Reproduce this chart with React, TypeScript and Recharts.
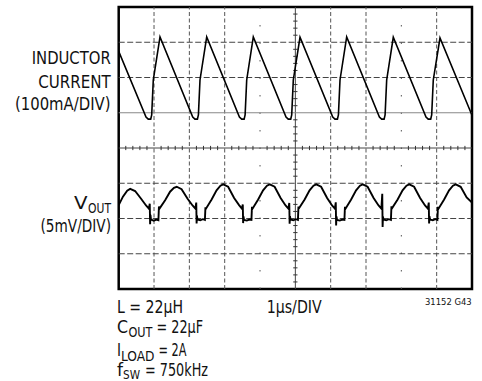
import React from 'react';
import { LineChart, Line, XAxis, YAxis, ReferenceLine, ReferenceArea } from 'recharts';

// Time axis: 0..10 µs (1µs/DIV), vertical: 0..8 divisions
const inductorT = [
  0, 0.773, 0.837, 0.906, 0.934, 0.979, 1.169,
  2.095, 2.159, 2.228, 2.256, 2.301, 2.491,
  3.417, 3.481, 3.55, 3.578, 3.623, 3.81,
  4.736, 4.8, 4.869, 4.897, 4.942, 5.132,
  6.058, 6.122, 6.191, 6.219, 6.264, 6.453,
  7.379, 7.443, 7.512, 7.54, 7.585, 7.772,
  8.698, 8.762, 8.831, 8.859, 8.904, 9.094,
  10,
];
const inductorV = [
  6.74, 4.88, 4.82, 4.82, 4.94, 5.93, 7.15,
  4.88, 4.82, 4.82, 4.94, 5.93, 7.15,
  4.88, 4.82, 4.82, 4.94, 5.93, 7.15,
  4.88, 4.82, 4.82, 4.94, 5.93, 7.14,
  4.88, 4.82, 4.82, 4.94, 5.93, 7.15,
  4.88, 4.82, 4.82, 4.94, 5.93, 7.14,
  4.88, 4.82, 4.82, 4.94, 5.93, 7.12,
  4.93,
];

const voutT = [
  0, 0.12, 0.24, 0.324,
  0.464, 0.634, 0.774, 0.854, 0.879, 0.889, 0.899, 0.914, 0.994, 1.064, 1.124, 1.139, 1.154, 1.314, 1.454, 1.564, 1.642,
  1.78, 1.95, 2.09, 2.17, 2.195, 2.205, 2.215, 2.23, 2.31, 2.38, 2.44, 2.455, 2.47, 2.63, 2.77, 2.88, 2.958,
  3.097, 3.267, 3.407, 3.487, 3.512, 3.522, 3.532, 3.547, 3.627, 3.697, 3.757, 3.772, 3.787, 3.947, 4.087, 4.197, 4.275,
  4.413, 4.583, 4.723, 4.803, 4.828, 4.838, 4.848, 4.863, 4.943, 5.013, 5.073, 5.088, 5.103, 5.263, 5.403, 5.513, 5.591,
  5.729, 5.899, 6.039, 6.119, 6.144, 6.154, 6.164, 6.179, 6.259, 6.329, 6.389, 6.404, 6.419, 6.579, 6.719, 6.829, 6.907,
  7.045, 7.215, 7.355, 7.435, 7.46, 7.47, 7.48, 7.495, 7.575, 7.645, 7.705, 7.72, 7.735, 7.895, 8.035, 8.145, 8.223,
  8.361, 8.531, 8.671, 8.751, 8.776, 8.786, 8.796, 8.811, 8.891, 8.961, 9.021, 9.036, 9.051, 9.211, 9.351, 9.461, 9.539,
  9.679, 9.849, 10,
];
const voutV = [
  2.38, 2.62, 2.79, 2.84,
  2.78, 2.56, 2.37, 2.28, 2.42, 1.84, 2.1, 1.97, 1.94, 1.97, 1.95, 2.34, 2.28, 2.52, 2.76, 2.87, 2.9,
  2.83, 2.56, 2.37, 2.28, 2.45, 1.86, 2.08, 1.97, 1.95, 1.98, 1.96, 2.32, 2.28, 2.54, 2.8, 2.93, 2.97,
  2.9, 2.58, 2.38, 2.28, 2.4, 1.87, 2.06, 1.96, 1.94, 1.97, 1.96, 2.33, 2.28, 2.54, 2.8, 2.93, 2.97,
  2.9, 2.58, 2.37, 2.28, 2.44, 1.85, 2.07, 1.97, 1.95, 1.98, 1.96, 2.34, 2.29, 2.54, 2.8, 2.93, 2.97,
  2.9, 2.58, 2.37, 2.28, 2.46, 1.8, 2.06, 1.96, 1.94, 1.97, 1.96, 2.33, 2.28, 2.54, 2.8, 2.93, 2.97,
  2.9, 2.58, 2.37, 2.28, 2.7, 1.76, 2.05, 1.97, 1.95, 1.98, 1.96, 2.35, 2.29, 2.54, 2.8, 2.93, 2.97,
  2.9, 2.58, 2.37, 2.28, 2.45, 1.86, 2.07, 1.97, 1.95, 1.98, 1.96, 2.33, 2.28, 2.54, 2.8, 2.93, 2.97,
  2.9, 2.6, 2.45,
];

const gridX = [1, 2, 3, 4, 5, 6, 7, 8, 9];
const gridY = [1, 2, 3, 4, 5, 6, 7];
const sparseX = [4, 8];
const centerX = 5;
const centerY = 4;
const minorStep = 0.2;

const inductorData = inductorT.map((t, i) => ({ t, v: inductorV[i] }));
const voutData = voutT.map((t, i) => ({ t, v: voutV[i] }));
const minorTicksX = Array.from({ length: 49 }, (_, i) => +((i + 1) * minorStep).toFixed(2)).filter((v) => v % 1 !== 0);
const minorTicksY = Array.from({ length: 39 }, (_, i) => +((i + 1) * minorStep).toFixed(2)).filter((v) => v % 1 !== 0);

const FONT = "'Liberation Sans Narrow', 'DejaVu Sans Condensed', 'Arial Narrow', sans-serif";

type TProps = { x: number; y: number; w: number; s: number; children: React.ReactNode };
const T = ({ x, y, w, s, children }: TProps) => (
  <text x={x} y={y} fontSize={s} textLength={w} lengthAdjust="spacingAndGlyphs">
    {children}
  </text>
);

export default function App() {
  return (
    <div style={{ position: 'absolute', left: 0, top: 0, width: 482, height: 381, background: '#fff' }}>
      <LineChart
        width={482}
        height={381}
        margin={{ top: 7, right: 10, bottom: 92, left: 118.7 }}
      >
        <XAxis dataKey="t" type="number" domain={[0, 10]} allowDataOverflow hide />
        <YAxis type="number" domain={[0, 8]} allowDataOverflow hide />
        {gridX.map((x) => (
          <ReferenceLine
            key={'gx' + x}
            x={x}
            stroke={x === centerX ? '#444' : '#555'}
            strokeWidth={1}
            strokeDasharray={x === centerX ? undefined : sparseX.includes(x) ? '1.5 16' : '4 2.5'}
          />
        ))}
        {gridY.map((y) => (
          <ReferenceLine
            key={'gy' + y}
            y={y}
            stroke={y === centerY ? '#444' : y === 5 ? '#888' : '#444'}
            strokeWidth={1}
            strokeDasharray={y === centerY || y === 5 ? undefined : '6 2.5'}
          />
        ))}
        {minorTicksX.map((x) => (
          <ReferenceLine
            key={'tx' + x}
            segment={[{ x, y: centerY - 0.06 }, { x, y: centerY + 0.06 }]}
            stroke="#333"
            strokeWidth={1}
          />
        ))}
        {minorTicksY.map((y) => (
          <ReferenceLine
            key={'ty' + y}
            segment={[{ x: centerX - 0.06, y }, { x: centerX + 0.06, y }]}
            stroke="#333"
            strokeWidth={1}
          />
        ))}
        <Line
          data={inductorData}
          dataKey="v"
          type="linear"
          stroke="#000"
          strokeWidth={1.6}
          dot={false}
          isAnimationActive={false}
        />
        <Line
          data={voutData}
          dataKey="v"
          type="linear"
          stroke="#000"
          strokeWidth={1.9}
          dot={false}
          isAnimationActive={false}
        />
        <ReferenceArea x1={0} x2={10} y1={0} y2={8} fill="none" stroke="#000" strokeWidth={2.5} />
      </LineChart>
      <svg
        width={482}
        height={381}
        style={{ position: 'absolute', left: 0, top: 0, pointerEvents: 'none' }}
      >
        <g fontFamily={FONT} fill="#111">
          <T x={31.7} y={63.5} w={79} s={18}>INDUCTOR</T>
          <T x={38.3} y={87.5} w={72.4} s={18}>CURRENT</T>
          <T x={15} y={110} w={95.5} s={18}>(100mA/DIV)</T>
          <T x={74} y={209} w={13.5} s={18}>V</T>
          <T x={88} y={212.5} w={23} s={14}>OUT</T>
          <T x={40.5} y={231.5} w={70.5} s={18}>(5mV/DIV)</T>

          <T x={117} y={313} w={66} s={17}>L = 22µH</T>
          <T x={266.7} y={313} w={55} s={17}>1µs/DIV</T>
          <T x={425} y={305} w={46.7} s={9.5}>31152 G43</T>

          <T x={117} y={333} w={11} s={17}>C</T>
          <T x={128.5} y={337} w={24} s={13.5}>OUT</T>
          <T x={156.5} y={333} w={46.5} s={17}>= 22µF</T>

          <T x={117} y={356} w={4} s={17}>I</T>
          <T x={121} y={360.5} w={33.5} s={13.5}>LOAD</T>
          <T x={158.5} y={356} w={28} s={17}>= 2A</T>

          <T x={117} y={376} w={6} s={17}>f</T>
          <T x={123} y={379} w={17} s={13}>SW</T>
          <T x={145} y={376} w={63} s={17}>= 750kHz</T>
        </g>
      </svg>
    </div>
  );
}
